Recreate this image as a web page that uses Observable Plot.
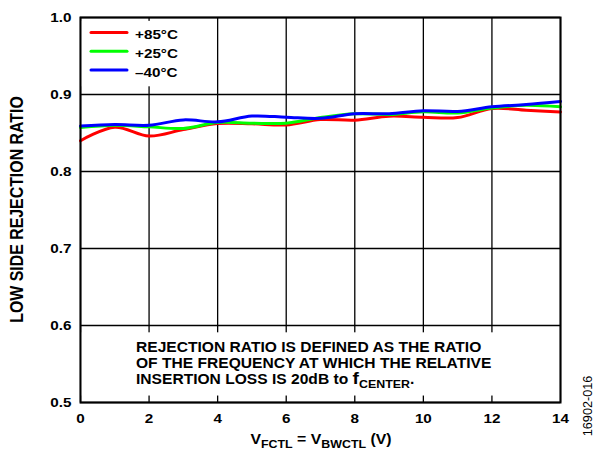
<!DOCTYPE html>
<html>
<head>
<meta charset="utf-8">
<script src="https://cdn.jsdelivr.net/npm/d3@7"></script>
<script src="https://cdn.jsdelivr.net/npm/@observablehq/plot@0.6"></script>
<style>
  html, body { margin: 0; padding: 0; background: #fff; }
  #chart svg { display: block; }
</style>
</head>
<body>
<div id="chart"></div>
<script>
// ---- data ----
const vctl = [0, 1, 2, 3, 4, 5, 6, 7, 8, 9, 10, 11, 12, 13, 14];
const ratio85 = [0.840, 0.8575, 0.846, 0.8545, 0.8623, 0.862, 0.8605, 0.8675, 0.8666, 0.8718, 0.8705, 0.870, 0.8818, 0.8796, 0.8774];
const ratio25 = [0.857, 0.860, 0.858, 0.856, 0.8636, 0.8627, 0.8627, 0.870, 0.875, 0.874, 0.8775, 0.876, 0.8826, 0.886, 0.884];
const ratioM40 = [0.859, 0.861, 0.860, 0.867, 0.8645, 0.872, 0.8705, 0.869, 0.875, 0.875, 0.879, 0.878, 0.884, 0.887, 0.891];
const seriesNames = ["+85°C", "+25°C", "\u201340°C"];
const seriesColors = ["#ff0000", "#00ff00", "#0000ff"];
const xTicks = [0, 2, 4, 6, 8, 10, 12, 14];
const yTicks = [0.5, 0.6, 0.7, 0.8, 0.9, 1.0];
const noteLines = ["REJECTION RATIO IS DEFINED AS THE RATIO", "OF THE FREQUENCY AT WHICH THE RELATIVE", "INSERTION LOSS IS 20dB to "];

const rows = [];
[ratio85, ratio25, ratioM40].forEach((arr, i) => {
  arr.forEach((v, j) => rows.push({x: vctl[j], y: v, s: seriesNames[i]}));
});

// background panels (legend area and note area) in data units
const panels = [
  {x1: 0, x2: 3.94, y1: 0.910, y2: 0.995},
  {x1: 0, x2: 14, y1: 0.5084, y2: 0.5905}
];

const FONT = "'Liberation Sans', Arial, Helvetica, sans-serif";
const SX = 1.13; // horizontal glyph stretch seen in the reference

const chart = Plot.plot({
  width: 596,
  height: 455,
  marginLeft: 80,
  marginRight: 36,
  marginTop: 17,
  marginBottom: 53,
  style: {fontFamily: FONT, fontWeight: "bold", fontSize: "13.5px", color: "#000", background: "#fff"},
  x: {domain: [0, 14], ticks: xTicks, label: null},
  y: {domain: [0.5, 1.0], ticks: yTicks, label: null},
  color: {domain: seriesNames, range: seriesColors},
  marks: [
    Plot.gridX(xTicks, {stroke: "#000", strokeOpacity: 1, strokeWidth: 1.3}),
    Plot.gridY(yTicks, {stroke: "#000", strokeOpacity: 1, strokeWidth: 1.3}),
    Plot.rect(panels, {x1: "x1", x2: "x2", y1: "y1", y2: "y2", fill: "#fff", insetLeft: 1, insetRight: 1}),
    Plot.axisX(xTicks, {tickSize: 0, tickPadding: 11, tickFormat: d => d, fontWeight: "bold", fontSize: 13.5}),
    Plot.axisY(yTicks, {tickSize: 0, tickPadding: 9, tickFormat: d3.format(".1f"), fontWeight: "bold", fontSize: 13.5}),
    Plot.line(rows, {x: "x", y: "y", z: "s", stroke: "s", strokeWidth: 3, curve: "catmull-rom"}),
    Plot.frame({stroke: "#000", strokeWidth: 2})
  ]
});

document.getElementById("chart").appendChild(chart);

const svg = d3.select(chart);
// stretch the axis tick labels horizontally
svg.selectAll("g[aria-label$='tick label'] text").each(function () {
  const t = this.getAttribute("transform") || "";
  this.setAttribute("transform", t + ` scale(${SX},1)`);
});

const sx = chart.scale("x"), sy = chart.scale("y");
const X0 = sx.apply(0), X1 = sx.apply(14), Y0 = sy.apply(0.5), Y1 = sy.apply(1.0);

function htext(parent, x, y, anchor) {
  return parent.append("text").attr("text-anchor", anchor)
    .attr("transform", `translate(${x},${y}) scale(${SX},1)`);
}

// legend
const leg = svg.append("g").attr("font-family", FONT).attr("font-weight", "bold").attr("font-size", 13.5);
seriesNames.forEach((n, i) => {
  const yy = Y1 + 15.5 + i * 18.8;
  leg.append("line").attr("x1", X0 + 11).attr("x2", X0 + 47).attr("y1", yy).attr("y2", yy)
    .attr("stroke", seriesColors[i]).attr("stroke-width", 3).attr("stroke-linecap", "round");
  htext(leg, X0 + 55, yy + 6.5, "start").text(n);
});

// note
const note = svg.append("g").attr("font-family", FONT).attr("font-weight", "bold").attr("font-size", 13.8);
noteLines.forEach((t, i) => {
  const tx = htext(note, X0 + 56, 352.3 + i * 16, "start").text(t);
  if (i === 2) {
    tx.append("tspan").attr("font-size", 17).text("f");
    tx.append("tspan").attr("font-size", 11).attr("dy", 4).text("CENTER");
    tx.append("tspan").attr("dy", -4).text(".");
  }
});

// x axis title
const xt = htext(svg.append("g").attr("font-family", FONT).attr("font-weight", "bold").attr("font-size", 14),
  (X0 + X1) / 2 + 1, 444, "middle");
xt.append("tspan").text("V");
xt.append("tspan").attr("font-size", 11).attr("dy", 4).text("FCTL");
xt.append("tspan").attr("dy", -4).text(" = V");
xt.append("tspan").attr("font-size", 11).attr("dy", 4).text("BWCTL");
xt.append("tspan").attr("dy", -4).text(" (V)");

// y axis title
svg.append("text").attr("font-family", FONT).attr("font-weight", "bold").attr("font-size", 15.9)
  .attr("text-anchor", "middle").attr("transform", `translate(23,${(Y0 + Y1) / 2}) rotate(-90) scale(1,${SX})`)
  .text("LOW SIDE REJECTION RATIO");

// figure id
svg.append("text").attr("font-family", FONT).attr("font-weight", "normal").attr("font-size", 11)
  .attr("text-anchor", "middle").attr("transform", `translate(592,406) rotate(-90) scale(1.15,1.1)`)
  .text("16902-016");
</script>
</body>
</html>
